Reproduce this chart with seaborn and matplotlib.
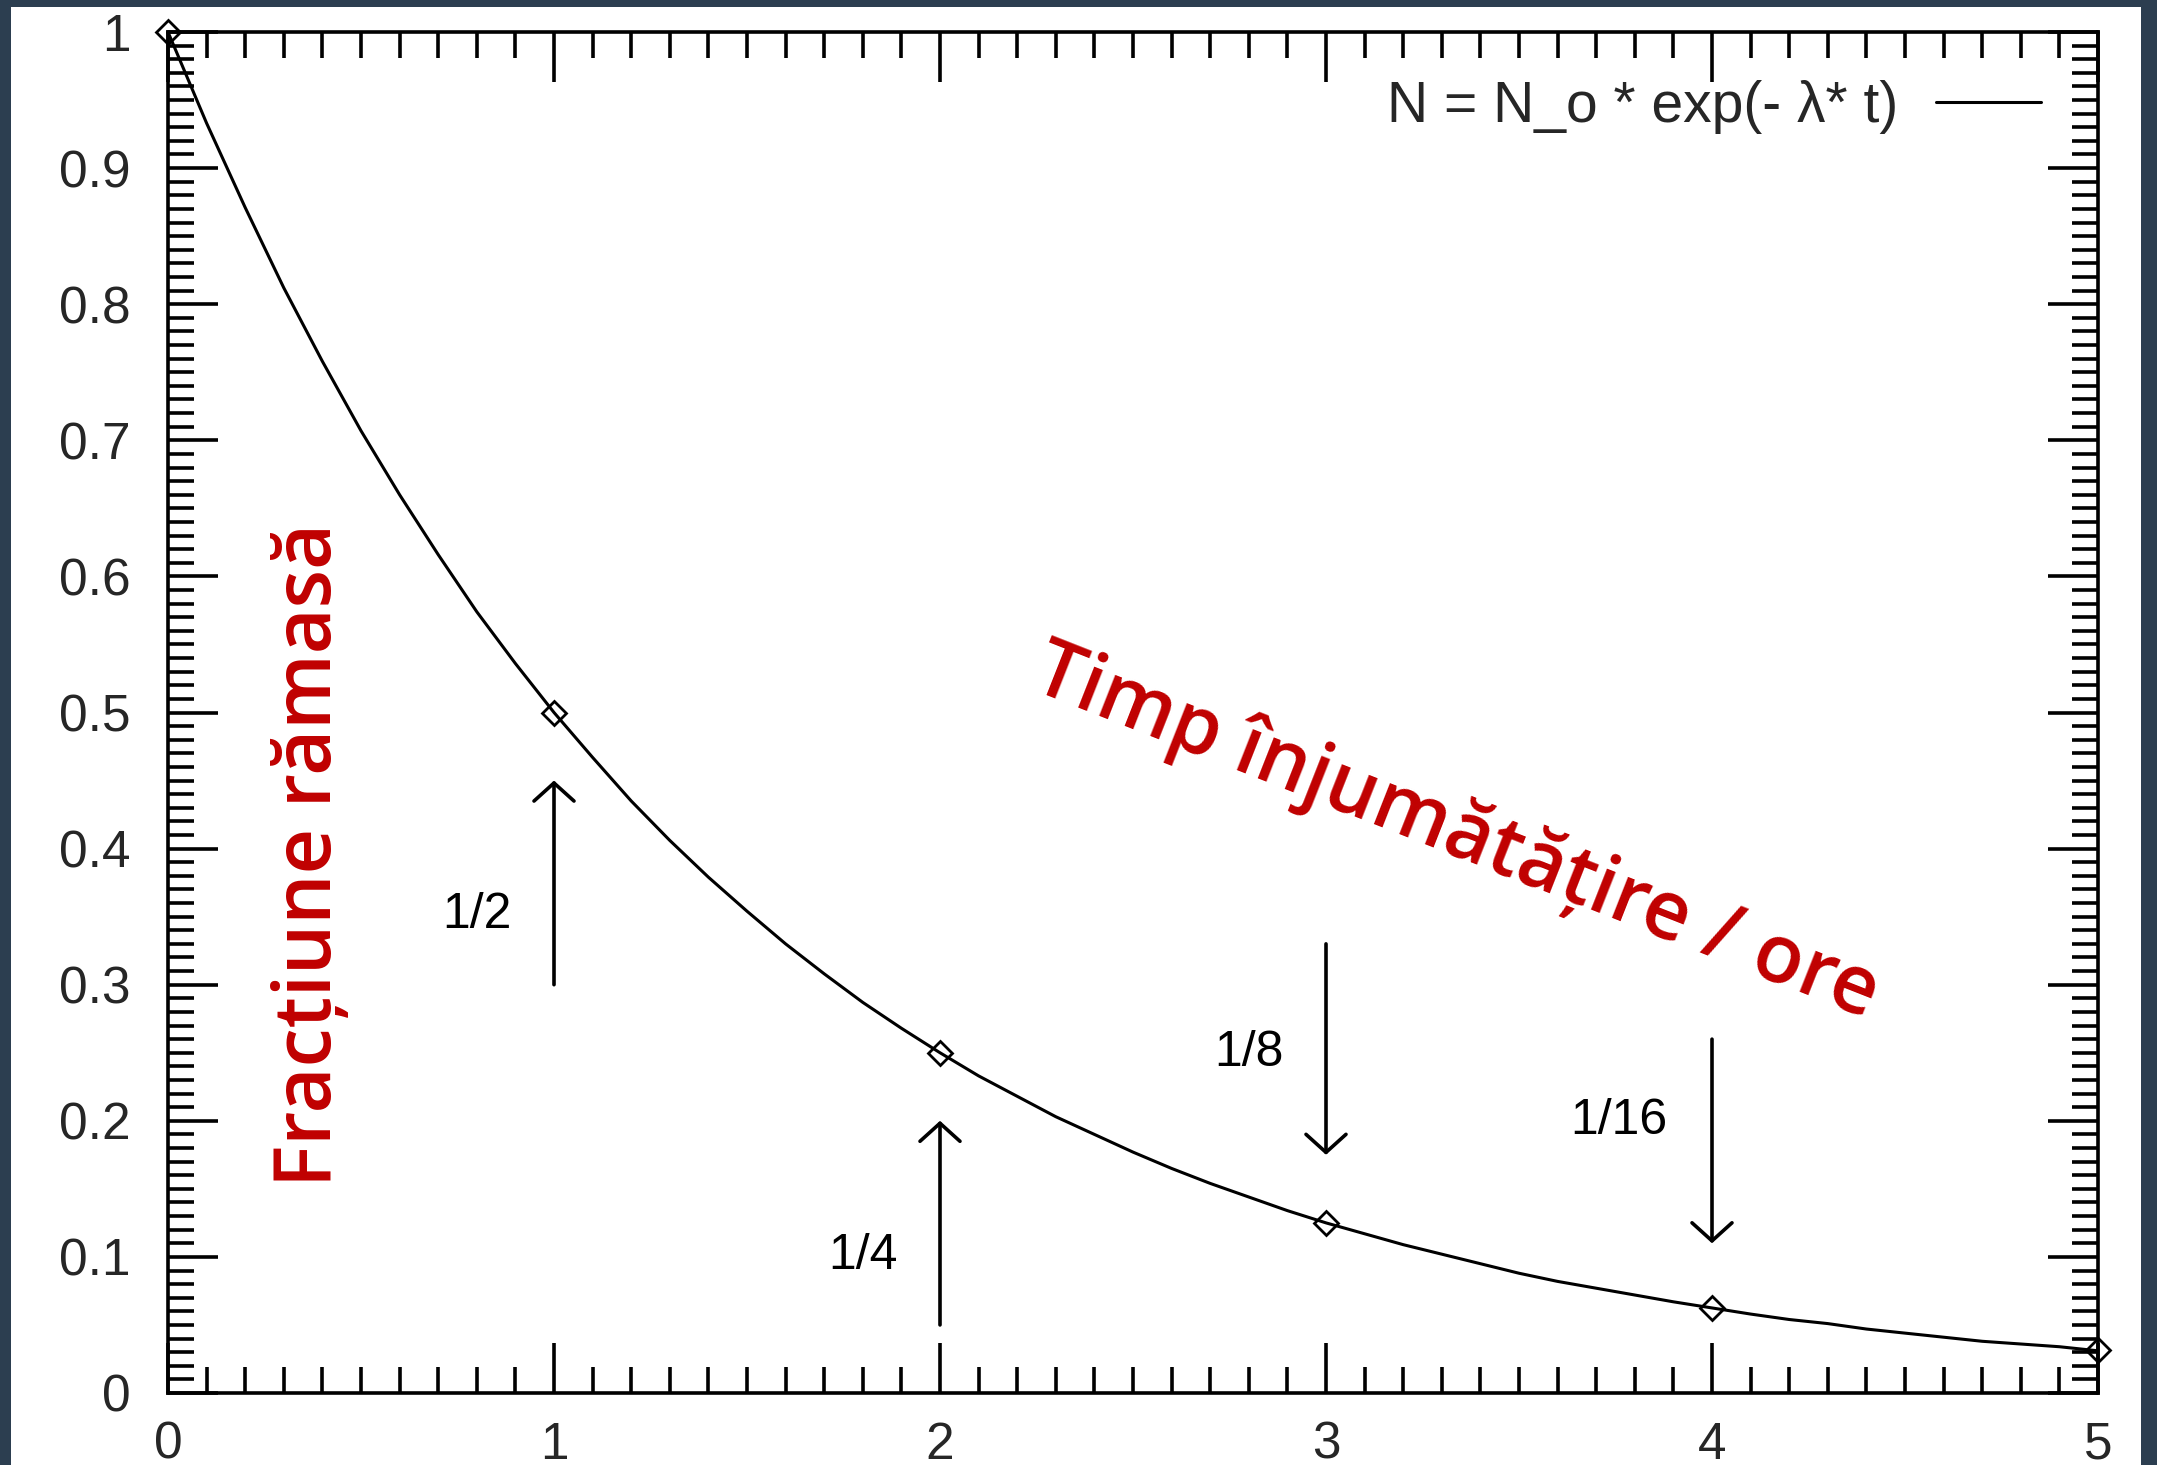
import matplotlib
matplotlib.use("Agg")
import matplotlib.pyplot as plt
import seaborn as sns
import pandas as pd
from matplotlib.ticker import MultipleLocator

# ---------------- data ----------------
t_curve = [0.0, 0.1, 0.2, 0.3, 0.4, 0.5, 0.6, 0.7, 0.8, 0.9,
           1.0, 1.1, 1.2, 1.3, 1.4, 1.5, 1.6, 1.7, 1.8, 1.9,
           2.0, 2.1, 2.2, 2.3, 2.4, 2.5, 2.6, 2.7, 2.8, 2.9,
           3.0, 3.1, 3.2, 3.3, 3.4, 3.5, 3.6, 3.7, 3.8, 3.9,
           4.0, 4.1, 4.2, 4.3, 4.4, 4.5, 4.6, 4.7, 4.8, 4.9, 5.0]
frac_curve = [1.000, 0.933, 0.871, 0.812, 0.758, 0.707, 0.660, 0.616, 0.574, 0.536,
              0.500, 0.467, 0.435, 0.406, 0.379, 0.354, 0.330, 0.308, 0.287, 0.268,
              0.250, 0.233, 0.218, 0.203, 0.190, 0.177, 0.165, 0.154, 0.144, 0.134,
              0.125, 0.117, 0.109, 0.102, 0.095, 0.088, 0.082, 0.077, 0.072, 0.067,
              0.0625, 0.058, 0.054, 0.051, 0.047, 0.044, 0.041, 0.038, 0.036, 0.034, 0.031]

t_points = [0, 1, 2, 3, 4, 5]
frac_points = [1.0, 0.5, 0.25, 0.125, 0.0625, 0.03125]

arrow_x = [1, 2, 3, 4]
arrow_from = [0.30, 0.05, 0.33, 0.26]
arrow_to = [0.45, 0.20, 0.175, 0.11]
arrow_labels = ["1/2", "1/4", "1/8", "1/16"]
label_x = [0.80, 1.80, 2.80, 3.76]
label_y = [0.351, 0.101, 0.250, 0.200]

x_ticks = [0, 1, 2, 3, 4, 5]
x_ticklabels = ["0", "1", "2", "3", "4", "5"]
y_ticks = [0, 0.1, 0.2, 0.3, 0.4, 0.5, 0.6, 0.7, 0.8, 0.9, 1.0]
y_ticklabels = ["0", "0.1", "0.2", "0.3", "0.4", "0.5", "0.6", "0.7", "0.8", "0.9", "1"]

legend_label = "N = N_o * exp(- \u03bb* t)"
ylabel_text = "Frac\u021biune r\u0103mas\u0103"
xlabel_text = "Timp \u00eenjum\u0103t\u0103\u021bire / ore"

# ---------------- style ----------------
sns.set_style("ticks")
plt.rcParams["font.family"] = ["Liberation Sans", "DejaVu Sans"]

W, H = 2157, 1465
fig = plt.figure(figsize=(W / 100, H / 100), dpi=100)
fig.patch.set_facecolor("#2c3e50")
bg = fig.add_axes([11 / W, 0, (2141 - 11) / W, (H - 7) / H], zorder=-10)
bg.set_facecolor("white")
bg.set_xticks([])
bg.set_yticks([])
for s in bg.spines.values():
    s.set_visible(False)

ax = fig.add_axes([168 / W, 1 - 1393 / H, (2098 - 168) / W, (1393 - 32) / H], zorder=1)
ax.set_facecolor("white")

df_curve = pd.DataFrame({"t": t_curve, "frac": frac_curve})
sns.lineplot(data=df_curve, x="t", y="frac", ax=ax, color="black", lw=2.2,
             label=legend_label, zorder=3)
ax.plot(t_points, frac_points, linestyle="none", marker="D", ms=12,
        mfc="none", mec="black", mew=2.0, clip_on=False, zorder=4)

for xa, y0, y1, lab, lx, ly in zip(arrow_x, arrow_from, arrow_to,
                                   arrow_labels, label_x, label_y):
    ax.annotate("", xy=(xa, y1), xytext=(xa, y0),
                arrowprops=dict(arrowstyle="->,head_length=0.65,head_width=0.72",
                                lw=2.6, color="black", mutation_scale=20,
                                shrinkA=0, shrinkB=0))
    ax.text(lx, ly, lab, ha="center", va="center", fontsize=36, color="black")

ax.set_xlim(0, 5)
ax.set_ylim(0, 1)
ax.set_xticks(x_ticks)
ax.set_xticklabels(x_ticklabels)
ax.set_yticks(y_ticks)
ax.set_yticklabels(y_ticklabels)
ax.xaxis.set_minor_locator(MultipleLocator(0.1))
ax.yaxis.set_minor_locator(MultipleLocator(0.01))
ax.tick_params(which="both", direction="in", top=True, right=True,
               width=2.6, color="black")
ax.tick_params(which="major", length=36, labelsize=37)
ax.tick_params(which="minor", length=19)
ax.tick_params(axis="x", which="major", pad=20)
ax.tick_params(axis="y", which="major", pad=27)
for s in ax.spines.values():
    s.set_linewidth(2.6)
    s.set_color("black")
ax.set_xlabel("")
ax.set_ylabel("")

leg = ax.legend(loc="center right", bbox_to_anchor=(2041 / W, 1 - 107 / H),
                bbox_transform=fig.transFigure, frameon=False, markerfirst=False,
                fontsize=41, handlelength=1.85, handletextpad=0.65,
                borderpad=0, borderaxespad=0)

red = "#c00000"
ax.text(0.368, 0.395, ylabel_text, rotation=90, ha="center", va="center",
        fontsize=57, color=red, fontweight="semibold",
        family=["Open Sans", "DejaVu Sans"])
ax.text(3.337, 0.411, xlabel_text, rotation=-21.5, ha="center", va="center",
        fontsize=58, color=red, fontweight="semibold",
        family=["Open Sans", "DejaVu Sans"])

fig.savefig("out.png", dpi=100, facecolor=fig.get_facecolor())
